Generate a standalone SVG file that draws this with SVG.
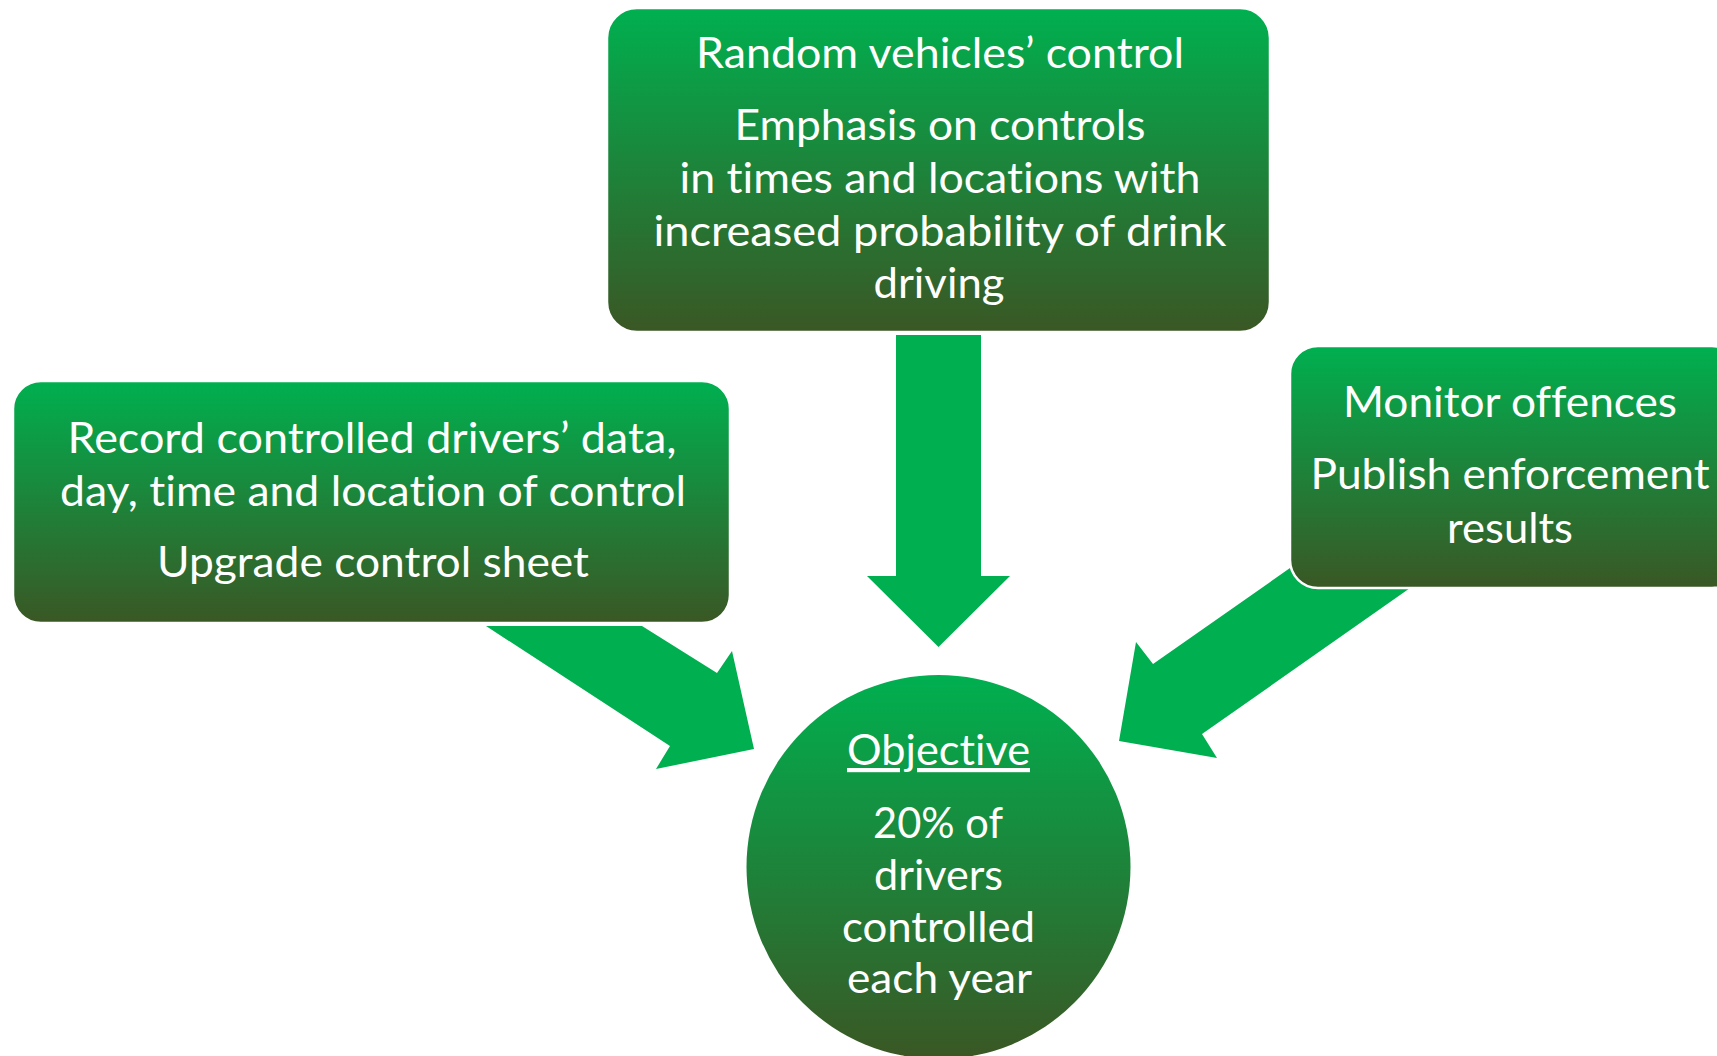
<svg xmlns="http://www.w3.org/2000/svg" width="1717" height="1056" viewBox="0 0 1717 1056">
  <defs>
    <linearGradient id="g" x1="0" y1="0" x2="0" y2="1">
      <stop offset="0" stop-color="#00B050"/>
      <stop offset="1" stop-color="#3A5724"/>
    </linearGradient>
    <style>
      .box { fill: url(#g); stroke: #FFFFFF; stroke-width: 2.5; }
      .arrow { fill: #00B050; }
      text { font-family: "Lato", "Open Sans", sans-serif; font-size: 42px; fill: #FFFFFF; text-anchor: middle; font-variant-ligatures: none; }
    </style>
  </defs>
  <rect width="1717" height="1056" fill="#FFFFFF"/>

  <g id="connectors">
    <polygon class="arrow" points="896,335 981,335 981,576 1010,576 938.5,647 867,576 896,576"/>
    <polygon class="arrow" points="486,626 642,626 717,673 732,651 754,749 656,769 670,746"/>
    <polygon class="arrow" points="1330,540 1440,567 1202,734 1217,758 1119,741 1136,642 1153,664"/>
  </g>

  <g id="node-top">
    <rect class="box" x="607" y="8" width="663" height="324" rx="30" ry="30"/>
    <text x="940" y="68" textLength="488" lengthAdjust="spacingAndGlyphs">Random vehicles’ control</text>
    <text x="940" y="140" textLength="411" lengthAdjust="spacingAndGlyphs">Emphasis on controls</text>
    <text x="940" y="193" textLength="521" lengthAdjust="spacingAndGlyphs">in times and locations with</text>
    <text x="940" y="246" textLength="573" lengthAdjust="spacingAndGlyphs">increased probability of drink</text>
    <text x="939" y="298" textLength="131" lengthAdjust="spacingAndGlyphs">driving</text>
  </g>

  <g id="node-left">
    <rect class="box" x="13" y="381" width="717" height="242" rx="28" ry="28"/>
    <text x="372" y="453" textLength="609" lengthAdjust="spacingAndGlyphs">Record controlled drivers’ data,</text>
    <text x="373" y="506" textLength="626" lengthAdjust="spacingAndGlyphs">day, time and location of control</text>
    <text x="373" y="577" textLength="432" lengthAdjust="spacingAndGlyphs">Upgrade control sheet</text>
  </g>

  <g id="node-right">
    <rect class="box" x="1290" y="346" width="450" height="242" rx="28" ry="28"/>
    <text x="1510" y="417" textLength="334" lengthAdjust="spacingAndGlyphs">Monitor offences</text>
    <text x="1510" y="489" textLength="399" lengthAdjust="spacingAndGlyphs">Publish enforcement</text>
    <text x="1510" y="543" textLength="126" lengthAdjust="spacingAndGlyphs">results</text>
  </g>

  <g id="node-objective">
    <circle cx="938.5" cy="867" r="192" fill="url(#g)"/>
    <text x="938.5" y="765" textLength="183" lengthAdjust="spacingAndGlyphs" text-decoration="underline">Objective</text>
    <text x="938" y="838" textLength="130" lengthAdjust="spacingAndGlyphs">20% of</text>
    <text x="938.5" y="890" textLength="129" lengthAdjust="spacingAndGlyphs">drivers</text>
    <text x="938.5" y="942" textLength="193" lengthAdjust="spacingAndGlyphs">controlled</text>
    <text x="939.5" y="993" textLength="185" lengthAdjust="spacingAndGlyphs">each year</text>
  </g>
</svg>
